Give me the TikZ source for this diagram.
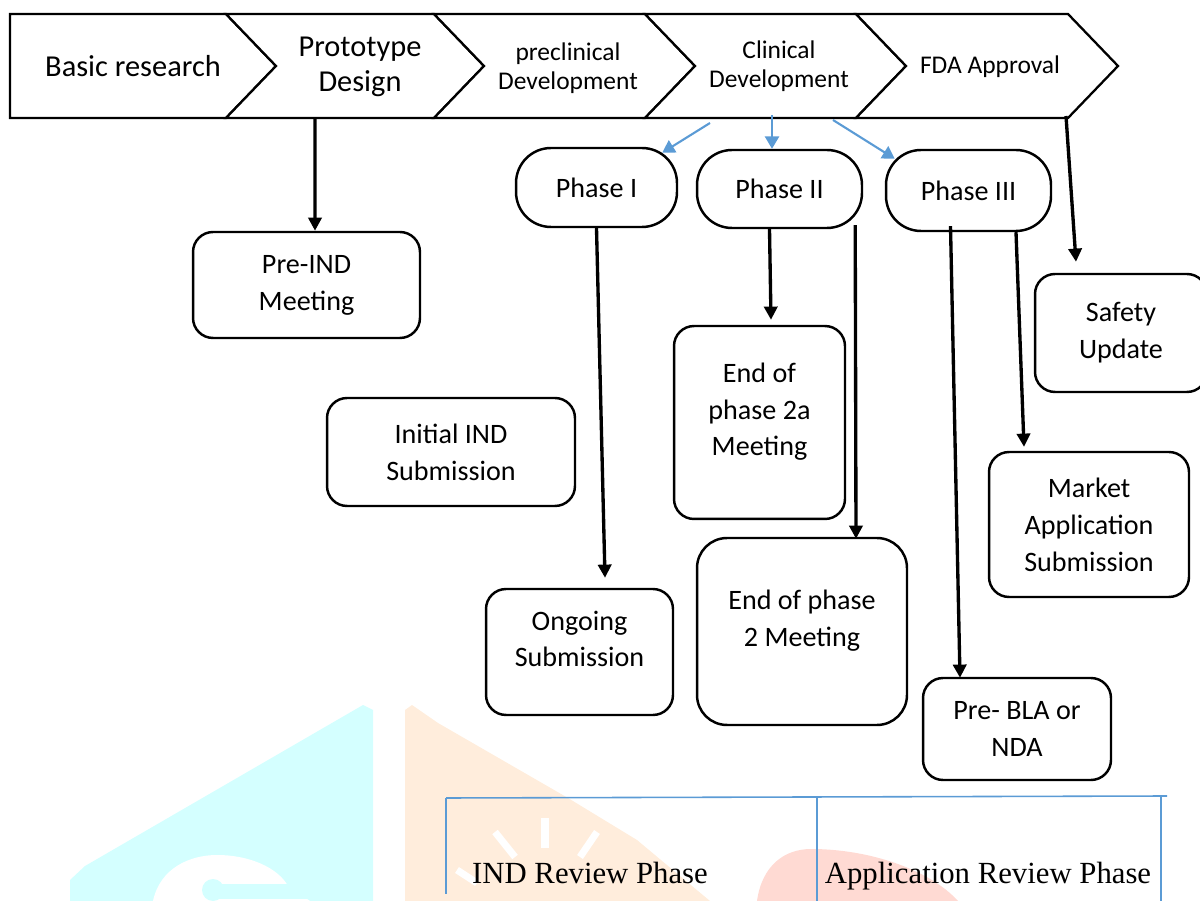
\documentclass[tikz,border=0pt]{standalone}
\usepackage{fontspec}
\setmainfont{Carlito}
\newfontfamily\tablefont{Liberation Serif}
\usetikzlibrary{arrows.meta,calc}
\definecolor{flow}{HTML}{5B9BD5}
\definecolor{wmcyan}{HTML}{D4FFFF}
\definecolor{wmorange}{HTML}{FFEDDC}
\definecolor{wmred}{HTML}{FFDAD3}

\begin{document}
\begin{tikzpicture}[
  x=0.02cm,y=-0.02cm,
  every node/.style={align=center},
  chev/.style={draw=black,line width=1.3pt,fill=white},
  bigtxt/.style={font=\fontsize{17.3}{20}\selectfont},
  smalltxt/.style={font=\fontsize{14.5}{16.5}\selectfont},
  box/.style={draw=black,line width=1.4pt,rounded corners=0.4cm,font=\fontsize{16}{21}\selectfont,inner sep=0pt},
  phase/.style={box,rounded corners=0.7cm},
  arrow/.style={-{Triangle[length=7.5pt,width=7.5pt]},line width=1.9pt},
  bluearrow/.style={-{Triangle[length=7pt,width=8pt]},line width=1.2pt,color=flow},
  grid/.style={draw=flow,line width=0.9pt},
  tabtxt/.style={font=\tablefont\fontsize{17.5}{20}\selectfont,anchor=base}
]
\useasboundingbox (0,0) rectangle (1200,901);

\fill[wmcyan] (70,901) -- (70,880) -- (85,866) -- (363,705) -- (373,710) -- (373,901) -- cycle;
\fill[white] (153,901) .. controls (160,868) and (190,855) .. (217,855) .. controls (250,855) and (278,868) .. (288,886) -- (310,901) -- cycle;
\fill[wmcyan] (213,890) circle (11);
\fill[wmcyan] (213,884) rectangle (307,899);
\fill[wmorange] (405,901) -- (405,710) -- (412,705) -- (438,723) -- (568,798) -- (637,840) -- (710,901) -- cycle;
\draw[white,line width=4pt] (545,818) -- (545,848);
\draw[white,line width=4pt] (495,832) -- (515,857);
\draw[white,line width=4pt] (597,832) -- (580,857);
\draw[white,line width=4pt] (457,870) -- (477,883);
\fill[wmred] (757,901) .. controls (762,865) and (785,849) .. (811,849) .. controls (870,849) and (930,870) .. (958,901) -- cycle;

\draw[chev] (10,14) -- (226,14) -- (276,66) -- (226,118) -- (10,118) -- cycle;
\foreach \b/\f in {226/434,434/645,645/856,856/1068}
  \draw[chev] (\b,14) -- (\f,14) -- ++(50,52) -- (\f,118) -- (\b,118) -- ++(50,-52) -- cycle;

\node[bigtxt] (basic) at (133,66) {Basic research};
\node[bigtxt] (proto) at (360,67) {Prototype\\Design};
\node[smalltxt] (precl) at (568,68) {preclinical\\Development};
\node[smalltxt] (clin) at (779,66) {Clinical\\Development};
\node[smalltxt] (fda) at (990,67) {FDA Approval};

\coordinate (protoB) at (315,118);
\coordinate (clinL) at (710,123);
\coordinate (clinM) at (772,115);
\coordinate (clinR) at (833,120);
\coordinate (fdaB) at (1066,116);

\node[phase,minimum width=3.22cm,minimum height=1.58cm] (ph1) at (596.5,187.5) {Phase I};
\node[phase,minimum width=3.30cm,minimum height=1.56cm] (ph2) at (779.5,189) {Phase II};
\node[phase,minimum width=3.30cm,minimum height=1.62cm] (ph3) at (968.5,190.5) {Phase III};

\node[box,minimum width=4.54cm,minimum height=2.12cm] (preind) at (306.5,285) {Pre-IND\\Meeting};
\node[box,minimum width=4.96cm,minimum height=2.16cm] (initind) at (451,452) {Initial IND\\Submission};
\node[box,minimum width=3.42cm,minimum height=3.86cm] (eop2a) at (759.5,422.5) {End of\\phase 2a\\Meeting\\[-6pt]\mbox{}};
\node[box,minimum width=3.74cm,minimum height=2.52cm] (ongoing) at (579.5,652) {Ongoing\\Submission\\[-6pt]\mbox{}};
\node[box,rounded corners=0.6cm,minimum width=4.20cm,minimum height=3.74cm] (eop2) at (802,631.5) {End of phase\\2 Meeting\\[-6pt]\mbox{}};
\node[box,minimum width=3.44cm,minimum height=2.36cm] (safety) at (1121,333) {Safety\\Update};
\node[box,minimum width=4.00cm,minimum height=2.90cm] (market) at (1089,524.5) {Market\\Application\\Submission};
\node[box,minimum width=3.76cm,minimum height=2.04cm] (prebla) at (1017,729) {Pre- BLA or\\NDA};

\draw[bluearrow] (clinL) -- ($(ph1.north east)+(-16,6)$);
\draw[bluearrow] (clinM) -- ($(ph2.north)+(-7.5,0)$);
\draw[bluearrow] (clinR) -- ($(ph3.north west)+(10,10)$);

\draw[arrow] (protoB) -- ($(preind.north)+(8.5,0)$);
\draw[arrow] (ph1.south) -- ($(ongoing.north)+(25.5,-10)$);
\draw[arrow] ($(ph2.south)+(-10,0)$) -- ($(eop2a.north)+(11.5,-5)$);
\draw[arrow] ($(ph2.south east)+(-8,-4)$) -- ($(eop2.north)+(54,2)$);
\draw[arrow] ($(ph3.south)+(-18,-6)$) -- ($(prebla.north)+(-57,1)$);
\draw[arrow] ($(ph3.south)+(47.5,0)$) -- ($(market.north)+(-65,-4)$);
\draw[arrow] (fdaB) -- ($(safety.north)+(-45,-11)$);

\draw[grid] (446,798) -- (1167,796);
\draw[grid] (446,798) -- (446,894);
\draw[grid] (817,798) -- (817,901);
\draw[grid] (1161,796) -- (1161,901);
\node[tabtxt] (indrev) at (590,883) {IND Review Phase};
\node[tabtxt] (apprev) at (988,883) {Application Review Phase};
\end{tikzpicture}
\end{document}
